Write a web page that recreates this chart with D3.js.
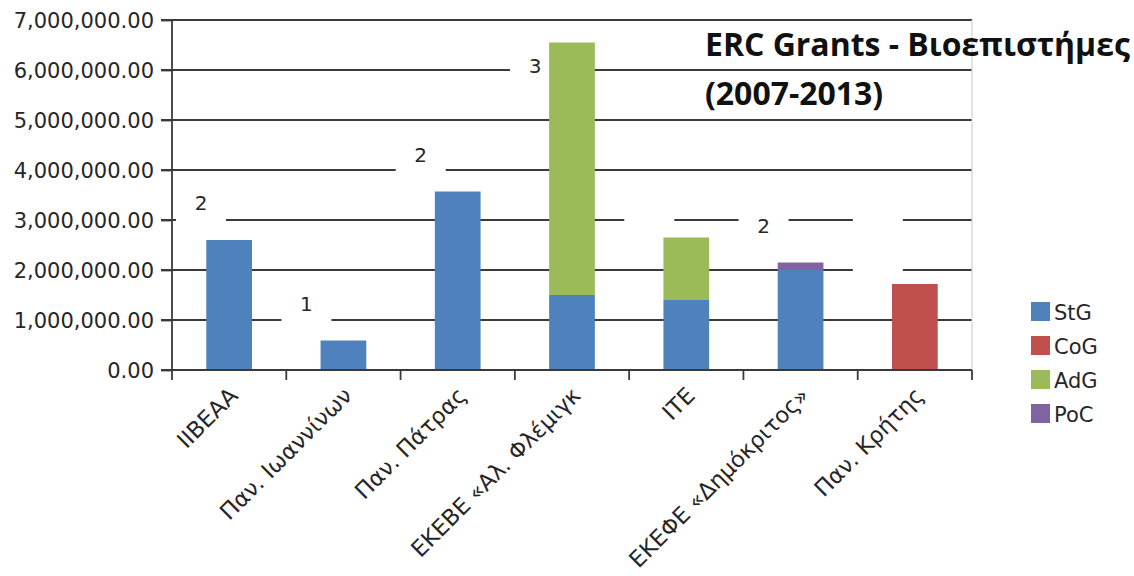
<!DOCTYPE html>
<html>
<head>
<meta charset="utf-8">
<script src="https://cdn.jsdelivr.net/npm/d3@7"></script>
<style>
  html, body { margin: 0; padding: 0; background: #fff; }
  svg { display: block; }
</style>
</head>
<body>
<svg id="chart" width="1134" height="576"></svg>
<script>
// ---- data ----
const categories = ["IIBEAA", "Παν. Ιωαννίνων", "Παν. Πάτρας", "ΕΚΕΒΕ «Αλ. Φλέμιγκ", "ΙΤΕ", "ΕΚΕΦΕ «Δημόκριτος»", "Παν. Κρήτης"];
const seriesNames = ["StG", "CoG", "AdG", "PoC"];
const seriesColors = ["#4F81BD", "#C0504D", "#9BBB59", "#8064A2"];
const StG = [2600000, 590000, 3570000, 1500000, 1400000, 2000000, 0];
const CoG = [0, 0, 0, 0, 0, 0, 1720000];
const AdG = [0, 0, 0, 5050000, 1250000, 0, 0];
const PoC = [0, 0, 0, 0, 0, 150000, 0];
const grantCounts = [2, 1, 2, 3, null, 2, null];
const yTickValues = [0, 1000000, 2000000, 3000000, 4000000, 5000000, 6000000, 7000000];
const titleLines = ["ERC Grants - Βιοεπιστήμες", "(2007-2013)"];

// ---- layout ----
const plot = { left: 172, right: 972, top: 20, bottom: 370 };
const svg = d3.select("#chart");
const fontTick = "'DejaVu Sans', sans-serif";

const rows = categories.map((c, i) => ({ cat: c, StG: StG[i], CoG: CoG[i], AdG: AdG[i], PoC: PoC[i], count: grantCounts[i] }));
const stack = d3.stack().keys(seriesNames)(rows);

const x = d3.scaleBand().domain(categories).range([plot.left, plot.right]).paddingInner(0.6).paddingOuter(0.3);
const y = d3.scaleLinear().domain([0, 7000000]).range([plot.bottom, plot.top]);
const color = d3.scaleOrdinal().domain(seriesNames).range(seriesColors);
const step = x.step();

// gridlines
const yAxis = d3.axisLeft(y).tickValues(yTickValues).tickSize(11).tickFormat(d3.format(",.2f"));
svg.append("g").attr("class", "grid")
  .selectAll("line").data(yTickValues).join("line")
  .attr("x1", plot.left - 11).attr("x2", plot.right)
  .attr("y1", d => y(d)).attr("y2", d => y(d))
  .attr("stroke", "#3a3a3a").attr("stroke-width", 1.8);

// right border
svg.append("line").attr("x1", plot.right).attr("x2", plot.right)
  .attr("y1", plot.top).attr("y2", plot.bottom)
  .attr("stroke", "#d0d0d0").attr("stroke-width", 1.2);

// label boxes (white backgrounds of the count labels)
const totals = rows.map(r => r.StG + r.CoG + r.AdG + r.PoC);
const labelPos = rows.map((r, i) => {
  const cx = x(r.cat) + x.bandwidth() / 2;
  const top = y(totals[i]);
  const ly = Math.max(top - 37, plot.top + 46);
  return { cx: Math.max(cx - 37, plot.left + 29), cy: ly, top: ly - 29, bottom: Math.max(top - 2, ly + 22), count: r.count };
});
svg.append("g").selectAll("rect").data(labelPos).join("rect")
  .attr("x", d => d.cx - 25).attr("y", d => d.top)
  .attr("width", 50).attr("height", d => d.bottom - d.top)
  .attr("fill", "#fff");

// bars
svg.append("g").selectAll("g").data(stack).join("g")
  .attr("fill", d => color(d.key))
  .selectAll("rect").data(d => d).join("rect")
  .attr("x", d => x(d.data.cat))
  .attr("width", x.bandwidth())
  .attr("y", d => y(d[1]))
  .attr("height", d => Math.max(0, y(d[0]) - y(d[1])));

// y axis
const gy = svg.append("g").attr("transform", `translate(${plot.left},0)`).call(yAxis);
gy.select(".domain").attr("stroke", "#3a3a3a").attr("stroke-width", 1.8).attr("d", `M0,${plot.top}V${plot.bottom}`);
gy.selectAll(".tick line").attr("stroke", "#3a3a3a").attr("stroke-width", 1.8);
gy.selectAll(".tick text").attr("font-family", fontTick).attr("font-size", 21).attr("fill", "#262626").attr("dx", -4).attr("dy", "0.36em");

// x axis
const boundaries = d3.range(categories.length + 1).map(i => plot.left + i * step);
const gx = svg.append("g");
gx.append("line").attr("x1", plot.left - 11).attr("x2", plot.right).attr("y1", plot.bottom).attr("y2", plot.bottom)
  .attr("stroke", "#3a3a3a").attr("stroke-width", 1.8);
gx.selectAll("line.tk").data(boundaries).join("line").attr("class", "tk")
  .attr("x1", d => d).attr("x2", d => d).attr("y1", plot.bottom).attr("y2", plot.bottom + 10)
  .attr("stroke", "#3a3a3a").attr("stroke-width", 1.8);
gx.selectAll("text").data(categories).join("text")
  .attr("transform", d => `translate(${x(d) + x.bandwidth() / 2 + 10},${plot.bottom + 27}) rotate(-45)`)
  .attr("text-anchor", "end")
  .attr("font-family", fontTick).attr("font-size", 22.5).attr("fill", "#262626")
  .text(d => d);

// count labels
svg.append("g").selectAll("text").data(labelPos.filter(d => d.count != null)).join("text")
  .attr("x", d => d.cx).attr("y", d => d.cy).attr("dy", "0.36em")
  .attr("text-anchor", "middle")
  .attr("font-family", fontTick).attr("font-size", 20).attr("fill", "#262626")
  .text(d => d.count);

// title
const tg = svg.append("g");
const t1 = tg.append("text").attr("x", 705).attr("y", 56)
  .attr("font-family", "'Open Sans', sans-serif").attr("font-weight", "bold").attr("font-size", 28)
  .attr("fill", "#111").text(titleLines[0]);
const w1 = t1.node().getComputedTextLength();
const fs = 28 * 425 / w1;
t1.attr("font-size", fs);
tg.append("text").attr("x", 705).attr("y", 105)
  .attr("font-family", "'Open Sans', sans-serif").attr("font-weight", "bold").attr("font-size", fs)
  .attr("fill", "#111").text(titleLines[1]);

// legend
const lg = svg.append("g").attr("transform", "translate(1031,302)");
const li = lg.selectAll("g").data(seriesNames).join("g").attr("transform", (d, i) => `translate(0,${i * 34})`);
li.append("rect").attr("width", 19).attr("height", 19).attr("fill", d => color(d));
li.append("text").attr("x", 23).attr("y", 10).attr("dy", "0.36em")
  .attr("font-family", fontTick).attr("font-size", 21).attr("fill", "#262626").text(d => d);
</script>
</body>
</html>
